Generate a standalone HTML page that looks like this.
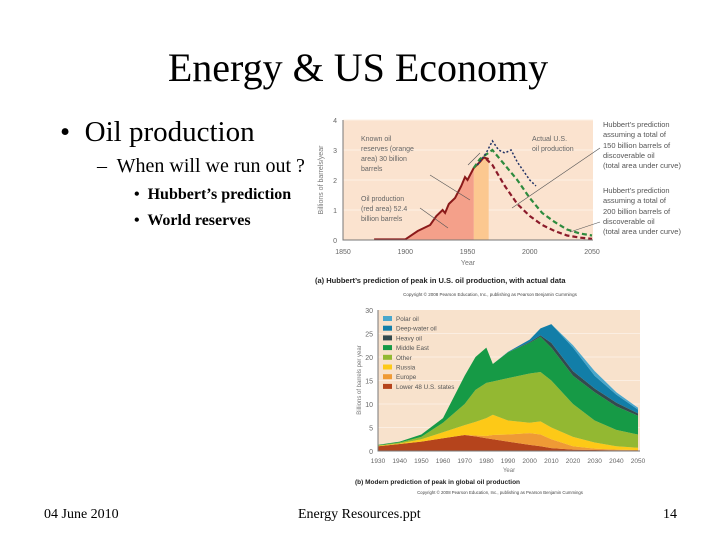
<!DOCTYPE html>
<html><head><meta charset="utf-8">
<style>
html,body{margin:0;padding:0;background:#fff;}
body{width:720px;height:540px;overflow:hidden;position:relative;font-family:"Liberation Serif",serif;}
.t{position:absolute;white-space:nowrap;color:#000;}
</style></head><body>
<div class="t" style="left:0;width:716px;text-align:center;top:44px;font-size:40px;">Energy &amp; US Economy</div>
<div class="t" style="left:60px;top:116px;font-size:29px;">•&nbsp; Oil production</div>
<div class="t" style="left:97px;top:155px;font-size:20px;">–&nbsp; When will we run out ?</div>
<div class="t" style="left:134px;top:186px;font-size:16px;font-weight:bold;">•&nbsp; Hubbert’s prediction</div>
<div class="t" style="left:134px;top:212px;font-size:16px;font-weight:bold;">•&nbsp; World reserves</div>
<div class="t" style="left:44px;top:507px;font-size:14px;">04 June 2010</div>
<div class="t" style="left:298px;top:507px;font-size:14px;">Energy Resources.ppt</div>
<div class="t" style="left:663px;top:507px;font-size:14px;">14</div>
<svg id="sv" width="720" height="540" style="position:absolute;left:0;top:0" font-family="Liberation Sans, sans-serif"></svg>
<script>
// ---- Chart (a) data ----
const prodYears=[1875,1900,1910,1920,1925,1930,1932,1935,1940,1945,1948,1950,1955,1960,1963,1967];
const prodValues=[0.02,0.02,0.3,0.5,0.8,1.0,0.9,1.2,1.4,1.8,2.1,2.0,2.4,2.6,2.75,2.7];
const actualYears=[1958,1965,1970,1975,1980,1985,1990,1995,2000,2005];
const actualValues=[2.5,2.9,3.3,3.0,2.9,3.0,2.6,2.3,2.0,1.8];
const h150Years=[1965,1970,1980,1990,2000,2010,2020,2030,2040,2050];
const h150Values=[2.7,2.5,1.8,1.2,0.8,0.5,0.3,0.15,0.08,0.04];
const h200Years=[1955,1960,1970,1980,1990,2000,2010,2020,2030,2040,2050];
const h200Values=[2.4,2.7,3.0,2.5,2.0,1.4,0.9,0.6,0.35,0.22,0.15];
const aXTicks=[1850,1900,1950,2000,2050];
const aYTicks=[0,1,2,3,4];
// ---- Chart (b) data ----
const bYears=[1930,1940,1950,1960,1970,1975,1980,1983,1990,2000,2005,2010,2020,2030,2040,2050];
const lower48=[1,1.5,2,2.7,3.4,3.1,2.7,2.5,2,1.3,1,0.6,0.3,0.2,0.15,0.1];
const europe=[0,0,0,0,0,0.2,0.5,0.9,1.5,2.5,2.5,1.9,0.7,0.3,0.15,0.1];
const russia=[0.1,0.1,0.5,1.3,2.1,2.9,3.8,4.3,3,2.2,2.8,2.5,2,1.3,0.7,0.5];
const other=[0.1,0.2,0.5,2,4.5,6.8,7.5,7.1,9,10.5,10.5,10,7,4.7,3.5,2.8];
const middleEast=[0.1,0.2,0.5,1,6,7,7.5,3.7,5.5,6.5,7.5,7,6,6,5,4];
const heavyOil=[0,0,0,0,0,0,0,0,0,0.2,0.3,1,1,0.8,0.8,0.5];
const deepWater=[0,0,0,0,0,0,0,0,0.1,0.5,1.5,4,5,2.7,1.7,0.8];
const polar=[0,0,0,0,0,0,0,0,0,0,0,0,0.5,1,0.5,0.4];
const bXTicks=[1930,1940,1950,1960,1970,1980,1990,2000,2010,2020,2030,2040,2050];
const bYTicks=[0,5,10,15,20,25,30];

const NS='http://www.w3.org/2000/svg';
const sv=document.getElementById('sv');
function mk(tag,attrs,parent){const e=document.createElementNS(NS,tag);for(const k in attrs)e.setAttribute(k,attrs[k]);(parent||sv).appendChild(e);return e;}
function txt(x,y,s,size,fill,anchor,name,weight){const e=mk('text',{x:x,y:y,'font-size':size,fill:fill||'#555','text-anchor':anchor||'start'});if(weight)e.setAttribute('font-weight',weight);e.textContent=s;


return e;}

// ---- Chart (a) ----
const ax=y=>343+(y-1850)*(592-343)/200;
const ay=v=>240-v*30;
let g=mk('g',{});


let bg=mk('rect',{x:343,y:120,width:250,height:120,fill:'#fbe3cf'},g);


aYTicks.forEach(t=>{if(t>0){const l=mk('line',{x1:343,x2:593,y1:ay(t),y2:ay(t),stroke:'#fdf0e4','stroke-width':1},g);}});
let rp='M'+ax(1955)+','+ay(0);
prodYears.forEach((y,i)=>{if(y>=1955)rp+=' L'+ax(y)+','+ay(prodValues[i]);});
rp+=' L'+ax(1967)+','+ay(0)+'Z';
let res=mk('path',{d:rp,fill:'#fcc890'},g);


let pp='M'+ax(prodYears[0])+','+ay(0);
prodYears.forEach((y,i)=>{if(y<=1955)pp+=' L'+ax(y)+','+ay(prodValues[i]);});
pp+=' L'+ax(1955)+','+ay(0)+'Z';
let pa=mk('path',{d:pp,fill:'#f4a08a'},g);


let pl=mk('polyline',{points:prodYears.map((y,i)=>ax(y)+','+ay(prodValues[i])).join(' '),fill:'none',stroke:'#8b1a1a','stroke-width':2},g);


let l200=mk('polyline',{points:h200Years.map((y,i)=>ax(y)+','+ay(h200Values[i])).join(' '),fill:'none',stroke:'#2e8b3e','stroke-width':2.2,'stroke-dasharray':'5,3'},g);


let l150=mk('polyline',{points:h150Years.map((y,i)=>ax(y)+','+ay(h150Values[i])).join(' '),fill:'none',stroke:'#8b1a2a','stroke-width':2.2,'stroke-dasharray':'5,3'},g);


let la=mk('polyline',{points:actualYears.map((y,i)=>ax(y)+','+ay(actualValues[i])).join(' '),fill:'none',stroke:'#223366','stroke-width':1.5,'stroke-dasharray':'2,2'},g);


let axl=mk('path',{d:'M343,120 L343,240 L593,240',fill:'none',stroke:'#777','stroke-width':1},g);


aYTicks.forEach(t=>txt(337,ay(t)+3,String(t),7,'#666','end','hubbert-y-tick'));
aXTicks.forEach(t=>txt(ax(t),254,String(t),7,'#666','middle','hubbert-x-tick'));
txt(468,265,'Year',7,'#777','middle','hubbert-x-title');
let yt=txt(0,0,'Billions of barrels/year',7,'#777','middle','hubbert-y-title');
yt.setAttribute('transform','translate(323,180) rotate(-90)');
[['Known oil',361,141],['reserves (orange',361,151],['area) 30 billion',361,161],['barrels',361,171]].forEach(a=>txt(a[1],a[2],a[0],7,'#666','start','reserves-annotation'));
[['Oil production',361,201],['(red area) 52.4',361,211],['billion barrels',361,221]].forEach(a=>txt(a[1],a[2],a[0],7,'#666','start','production-annotation'));
[['Actual U.S.',532,141],['oil production',532,151]].forEach(a=>txt(a[1],a[2],a[0],7,'#666','start','actual-annotation'));
[['Hubbert\u2019s prediction',603,127],['assuming a total of',603,137],['150 billion barrels of',603,148],['discoverable oil',603,158],['(total area under curve)',603,168]].forEach(a=>txt(a[1],a[2],a[0],7.5,'#555','start','hubbert-150-annotation'));
[['Hubbert\u2019s prediction',603,193],['assuming a total of',603,203],['200 billion barrels of',603,214],['discoverable oil',603,224],['(total area under curve)',603,234]].forEach(a=>txt(a[1],a[2],a[0],7.5,'#555','start','hubbert-200-annotation'));
[[430,175,470,200],[420,208,448,228],[480,153,468,165],[600,148,512,208],[600,222,570,232]].forEach(c=>{const l=mk('line',{x1:c[0],y1:c[1],x2:c[2],y2:c[3],stroke:'#555','stroke-width':0.6},g);});
txt(315,283,'(a) Hubbert\u2019s prediction of peak in U.S. oil production, with actual data',7.5,'#222','start','hubbert-caption','bold');
txt(490,296,'Copyright \u00a9 2008 Pearson Education, Inc., publishing as Pearson Benjamin Cummings',4.5,'#444','middle','hubbert-copyright');

// ---- Chart (b) ----
const bx=y=>378+(y-1930)*(638-378)/120;
const by=v=>451-v*(451-310)/30;
let g2=mk('g',{});


let bg2=mk('rect',{x:378,y:310,width:262,height:141,fill:'#f8e2cc'},g2);


bYTicks.forEach(t=>{if(t>0&&t<30){const l=mk('line',{x1:378,x2:640,y1:by(t),y2:by(t),stroke:'#fbeee2','stroke-width':1},g2);}});
const layers=[['lower-48-us-states',lower48,'#b5441c'],['europe',europe,'#ef9a35'],['russia',russia,'#fdc917'],['other',other,'#93b832'],['middle-east',middleEast,'#169a46'],['heavy-oil',heavyOil,'#334a4e'],['deep-water-oil',deepWater,'#127ea8'],['polar-oil',polar,'#4aa7cc']];
let base=bYears.map(()=>0);
layers.forEach(L=>{
  const top=base.map((b,i)=>b+L[1][i]);
  let d='M'+bYears.map((y,i)=>bx(y)+','+by(top[i])).join(' L');
  for(let i=bYears.length-1;i>=0;i--)d+=' L'+bx(bYears[i])+','+by(base[i]);
  const p=mk('path',{d:d+'Z',fill:L[2]},g2);
  
  
  base=top;
});
let axl2=mk('path',{d:'M378,310 L378,451 L640,451',fill:'none',stroke:'#777','stroke-width':1},g2);


bYTicks.forEach(t=>txt(373,by(t)+3,String(t),7,'#666','end','global-y-tick'));
bXTicks.forEach(t=>txt(bx(t),463,String(t),6.5,'#666','middle','global-x-tick'));
txt(509,472,'Year',6,'#777','middle','global-x-title');
let yt2=txt(0,0,'Billions of barrels per year',6,'#777','middle','global-y-title');
yt2.setAttribute('transform','translate(361,380) rotate(-90)');
const legNames=['Polar oil','Deep-water oil','Heavy oil','Middle East','Other','Russia','Europe','Lower 48 U.S. states'];
const legCols=['#4aa7cc','#127ea8','#334a4e','#169a46','#93b832','#fdc917','#ef9a35','#b5441c'];
legNames.forEach((n,i)=>{const y=316+i*9.7;const r=mk('rect',{x:383,y:y,width:9,height:5,fill:legCols[i]},g2);txt(396,y+5,n,6.3,'#555','start','legend-entry');});
txt(355,484,'(b) Modern prediction of peak in global oil production',6.5,'#222','start','global-caption','bold');
txt(500,494,'Copyright \u00a9 2008 Pearson Education, Inc., publishing as Pearson Benjamin Cummings',4.3,'#444','middle','global-copyright');
</script>
</body></html>
